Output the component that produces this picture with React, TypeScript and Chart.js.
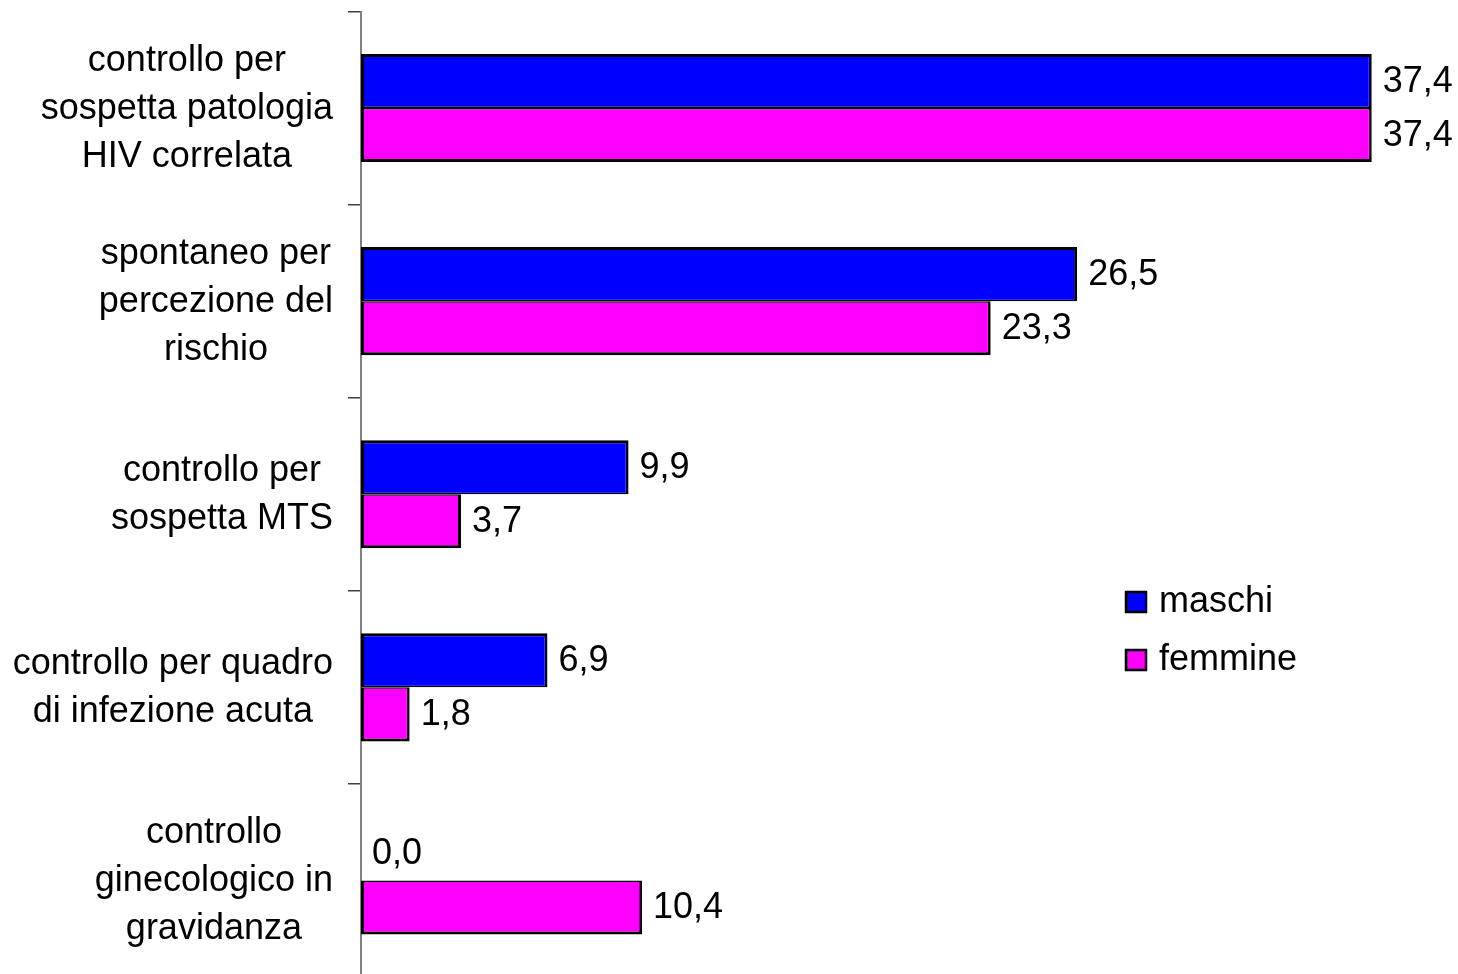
import React, { useEffect, useRef } from 'react';
import { Chart, registerables } from 'chart.js';

Chart.register(...registerables);

const categories: string[][] = [
  ['controllo per', 'sospetta patologia', 'HIV correlata'],
  ['spontaneo per', 'percezione del', 'rischio'],
  ['controllo per', 'sospetta MTS'],
  ['controllo per quadro', 'di infezione acuta'],
  ['controllo', 'ginecologico in', 'gravidanza'],
];
const maschi = [37.4, 26.5, 9.9, 6.9, 0.0];
const femmine = [37.4, 23.3, 3.7, 1.8, 10.4];
const seriesNames = ['maschi', 'femmine'];
const seriesColors = ['#0000FF', '#FF00FF'];

const FONT = '36px "Liberation Sans", Arial, sans-serif';

const overlayPlugin = {
  id: 'overlay',
  afterDraw(chart: any) {
    const ctx = chart.ctx;
    const yScale = chart.scales.y;
    ctx.save();
    ctx.font = FONT;
    ctx.fillStyle = '#000';
    ctx.textBaseline = 'middle';
    // category labels: each block right-aligned, lines centered within block
    const rightEdge = 333;
    const lineH = 48;
    categories.forEach((lines, i) => {
      const cy = yScale.getPixelForTick(i);
      const blockW = Math.max(...lines.map((l) => ctx.measureText(l).width));
      const cx = rightEdge - blockW / 2;
      ctx.textAlign = 'center';
      lines.forEach((l, j) => {
        ctx.fillText(l, cx, cy + (j - (lines.length - 1) / 2) * lineH + 1);
      });
    });
    // value labels
    ctx.textAlign = 'left';
    chart.data.datasets.forEach((ds: any, di: number) => {
      const meta = chart.getDatasetMeta(di);
      meta.data.forEach((el: any, idx: number) => {
        const v = ds.data[idx] as number;
        ctx.fillText(v.toFixed(1).replace('.', ','), el.x + 11, el.y + 1);
      });
    });
    // legend
    const legendX = 1126;
    const legendYs = [602, 660];
    seriesNames.forEach((name, i) => {
      const y = legendYs[i];
      ctx.fillStyle = seriesColors[i];
      ctx.fillRect(legendX, y - 10, 20, 20);
      ctx.strokeStyle = '#000';
      ctx.lineWidth = 2.5;
      ctx.strokeRect(legendX, y - 10, 20, 20);
      ctx.fillStyle = '#000';
      ctx.fillText(name, 1159, y);
    });
    ctx.restore();
  },
};

export default function App() {
  const ref = useRef<HTMLCanvasElement | null>(null);
  useEffect(() => {
    if (!ref.current) return;
    const chart = new Chart(ref.current, {
      type: 'bar',
      data: {
        labels: categories.map((c) => c.join(' ')),
        datasets: [
          {
            label: seriesNames[0],
            data: maschi,
            backgroundColor: seriesColors[0],
            borderColor: '#000',
            borderWidth: { top: 3, left: 3, right: 3, bottom: 1.5 },
            borderSkipped: false,
            categoryPercentage: 108 / 193,
            barPercentage: 1,
          },
          {
            label: seriesNames[1],
            data: femmine,
            backgroundColor: seriesColors[1],
            borderColor: '#000',
            borderWidth: { top: 1.5, left: 3, right: 3, bottom: 3 },
            borderSkipped: false,
            categoryPercentage: 108 / 193,
            barPercentage: 1,
          },
        ],
      },
      options: {
        indexAxis: 'y',
        animation: false,
        responsive: false,
        devicePixelRatio: 1,
        layout: { padding: { top: 11.5, right: 16, bottom: 0, left: 0 } },
        plugins: { legend: { display: false }, tooltip: { enabled: false } },
        scales: {
          x: { display: false, min: 0, max: 40 },
          y: {
            type: 'category',
            offset: true,
            grid: {
              offset: true,
              drawOnChartArea: false,
              drawTicks: true,
              tickLength: 13,
              color: '#808080',
              tickColor: '#404040',
              lineWidth: 1.5,
            },
            border: { display: true, color: '#808080', width: 2 },
            ticks: { display: false },
            afterFit: (scale: any) => {
              scale.width = 361;
            },
          },
        },
      },
      plugins: [overlayPlugin],
    } as any);
    return () => chart.destroy();
  }, []);
  return (
    <div style={{ position: 'fixed', left: 0, top: 0, width: 1458, height: 974, overflow: 'hidden', background: '#fff' }}>
      <canvas ref={ref} width={1458} height={977} style={{ width: 1458, height: 977, display: 'block' }} />
    </div>
  );
}
